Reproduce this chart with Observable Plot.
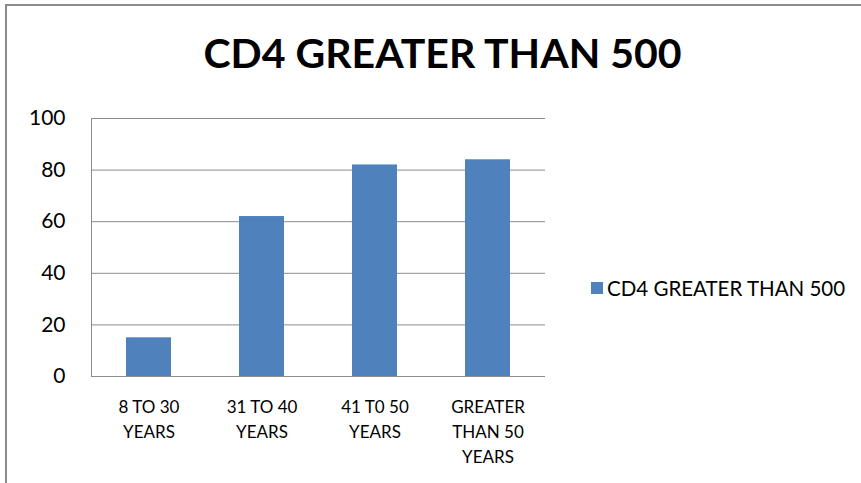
<!DOCTYPE html>
<html>
<head>
<meta charset="utf-8">
<script src="https://cdn.jsdelivr.net/npm/d3@7"></script>
<script src="https://cdn.jsdelivr.net/npm/@observablehq/plot@0.6"></script>
<style>
  html, body { margin: 0; padding: 0; background: #fff; }
  #wrap { position: relative; width: 861px; height: 483px; overflow: hidden; font-family: Lato, "Open Sans", sans-serif; }
  #frame { position: absolute; left: 5px; top: 4px; width: 900px; height: 600px; border-left: 2px solid #8c8c8c; border-top: 2px solid #8c8c8c; }
  #title { position: absolute; left: 0; top: 28px; width: 885px; text-align: center; font-size: 41px; font-weight: 700; color: #000; line-height: 1.2; }
  #legend { position: absolute; left: 591px; top: 276px; height: 24px; font-size: 20.5px; color: #000; display: flex; align-items: center; }
  #legend span.sw { display: inline-block; width: 12px; height: 12px; background: #4F81BD; margin-right: 4px; }
  #chart { position: absolute; left: 0; top: 0; }
</style>
</head>
<body>
<div id="wrap">
  <div id="chart"></div>
  <div id="frame"></div>
  <div id="title"></div>
  <div id="legend"><span class="sw"></span><span id="legtext"></span></div>
</div>
<script>
const categories = ["8 TO 30\nYEARS", "31 TO 40\nYEARS", "41 T0 50\nYEARS", "GREATER\nTHAN 50\nYEARS"];
const values = [15, 62, 82, 84];
const yTicks = [0, 20, 40, 60, 80, 100];
const seriesName = "CD4 GREATER THAN 500";
const titleText = "CD4 GREATER THAN 500";

document.getElementById("title").textContent = titleText;
document.getElementById("legtext").textContent = seriesName;

const data = categories.map((c, i) => ({category: c, value: values[i]}));

const chart = Plot.plot({
  width: 861,
  height: 483,
  marginLeft: 91,
  marginRight: 316,
  marginTop: 118,
  marginBottom: 107,
  style: { fontFamily: "Lato, 'Open Sans', sans-serif", background: "transparent", color: "#000" },
  x: { domain: categories, paddingInner: 0.6, paddingOuter: 0.3, label: null },
  y: { domain: [0, 100], ticks: yTicks, label: null },
  marks: [
    Plot.gridY(yTicks, { stroke: "#8c8c8c", strokeOpacity: 1, strokeWidth: 1 }),
    Plot.frame({ anchor: "left", stroke: "#8c8c8c" }),
    Plot.barY(data, { x: "category", y: "value", fill: "#4F81BD" }),
    Plot.axisY(yTicks, { tickSize: 0, tickPadding: 26, fontSize: 21, tickFormat: d => String(d), stroke: null }),
    Plot.axisX({ tickSize: 0, tickPadding: 19, fontSize: 17, lineHeight: 1.47 })
  ]
});
document.getElementById("chart").appendChild(chart);
</script>
</body>
</html>
